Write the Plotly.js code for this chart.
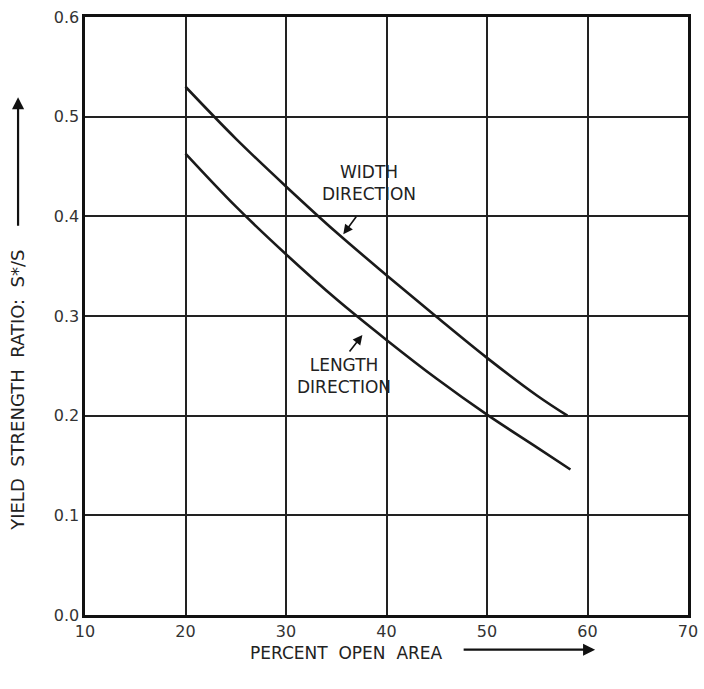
<!DOCTYPE html>
<html>
<head>
<meta charset="utf-8">
<script src="https://cdn.plot.ly/plotly-3.0.1.min.js"></script>
<style>html,body{margin:0;padding:0;background:#fff;}#chart{width:704px;height:689px;}</style>
</head>
<body>
<div id="chart"></div>
<script>
// Width direction curve
const widthX = [20, 25, 30, 35, 40, 45, 50, 55, 58];
const widthY = [0.53, 0.478, 0.43, 0.384, 0.341, 0.299, 0.258, 0.220, 0.20];
// Length direction curve
const lengthX = [20, 25, 30, 35, 40, 45, 50, 55, 58.3];
const lengthY = [0.463, 0.41, 0.362, 0.317, 0.276, 0.237, 0.201, 0.168, 0.146];
// Axis ticks
const xTicks = [10, 20, 30, 40, 50, 60, 70];
const yTicks = [0.0, 0.1, 0.2, 0.3, 0.4, 0.5, 0.6];
const yTickLabels = ['0.0', '0.1', '0.2', '0.3', '0.4', '0.5', '0.6'];

const FONT = 'DejaVu Sans, Liberation Sans, Arial, sans-serif';
const ink = '#1a1a1a';
const sp = '\u00a0\u00a0';

const traces = [
  {x: widthX, y: widthY, mode: 'lines', line: {color: ink, width: 2.6, shape: 'spline', smoothing: 1}, hoverinfo: 'skip', showlegend: false},
  {x: lengthX, y: lengthY, mode: 'lines', line: {color: ink, width: 2.6, shape: 'spline', smoothing: 1}, hoverinfo: 'skip', showlegend: false}
];

const layout = {
  width: 704, height: 689,
  margin: {l: 85, r: 16, t: 17, b: 74},
  paper_bgcolor: '#fff', plot_bgcolor: '#fff',
  font: {family: FONT, size: 16, color: '#333'},
  xaxis: {
    range: [10, 70], tickvals: xTicks, ticktext: xTicks.map(String),
    showgrid: true, gridcolor: '#222', gridwidth: 2,
    showline: true, linecolor: '#111', linewidth: 2.6, mirror: true,
    zeroline: false, ticks: '', ticklen: 0,
    tickfont: {family: FONT, size: 16, color: '#333'}
  },
  yaxis: {
    range: [0, 0.6], tickvals: yTicks, ticktext: yTickLabels,
    showgrid: true, gridcolor: '#222', gridwidth: 2,
    showline: true, linecolor: '#111', linewidth: 2.6, mirror: true,
    zeroline: false, ticks: '', ticklen: 0,
    tickfont: {family: FONT, size: 16, color: '#333'}
  },
  annotations: [
    {xref: 'paper', yref: 'paper', x: 0.433, y: -0.064, text: 'PERCENT' + sp + 'OPEN' + sp + 'AREA', showarrow: false,
     font: {family: FONT, size: 17, color: '#222'}, xanchor: 'center', yanchor: 'middle'},
    {xref: 'paper', yref: 'paper', x: 0.846, y: -0.058, ax: -133, ay: 0, text: '', showarrow: true,
     arrowhead: 2, arrowsize: 1.1, arrowwidth: 2.2, arrowcolor: '#111'},
    {xref: 'paper', yref: 'paper', x: -0.111, y: 0.375, text: 'YIELD' + sp + 'STRENGTH' + sp + 'RATIO:' + sp + 'S*/S', showarrow: false,
     textangle: -90, font: {family: FONT, size: 18, color: '#222'}, xanchor: 'center', yanchor: 'middle'},
    {xref: 'paper', yref: 'paper', x: -0.111, y: 0.866, ax: 0, ay: 130, text: '', showarrow: true,
     arrowhead: 2, arrowsize: 1.1, arrowwidth: 2.2, arrowcolor: '#111'},
    {x: 38.3, y: 0.433, text: 'WIDTH<br>DIRECTION', showarrow: false,
     font: {family: FONT, size: 17, color: '#222'}, xanchor: 'center', yanchor: 'middle'},
    {x: 35.7, y: 0.382, ax: 14, ay: -19, text: '', showarrow: true,
     arrowhead: 2, arrowsize: 1.2, arrowwidth: 1.6, arrowcolor: '#111'},
    {x: 35.8, y: 0.240, text: 'LENGTH<br>DIRECTION', showarrow: false,
     font: {family: FONT, size: 17, color: '#222'}, xanchor: 'center', yanchor: 'middle'},
    {x: 37.6, y: 0.281, ax: -14, ay: 18, text: '', showarrow: true,
     arrowhead: 2, arrowsize: 1.2, arrowwidth: 1.6, arrowcolor: '#111'}
  ]
};

Plotly.newPlot('chart', traces, layout, {displayModeBar: false, staticPlot: true});
</script>
</body>
</html>
